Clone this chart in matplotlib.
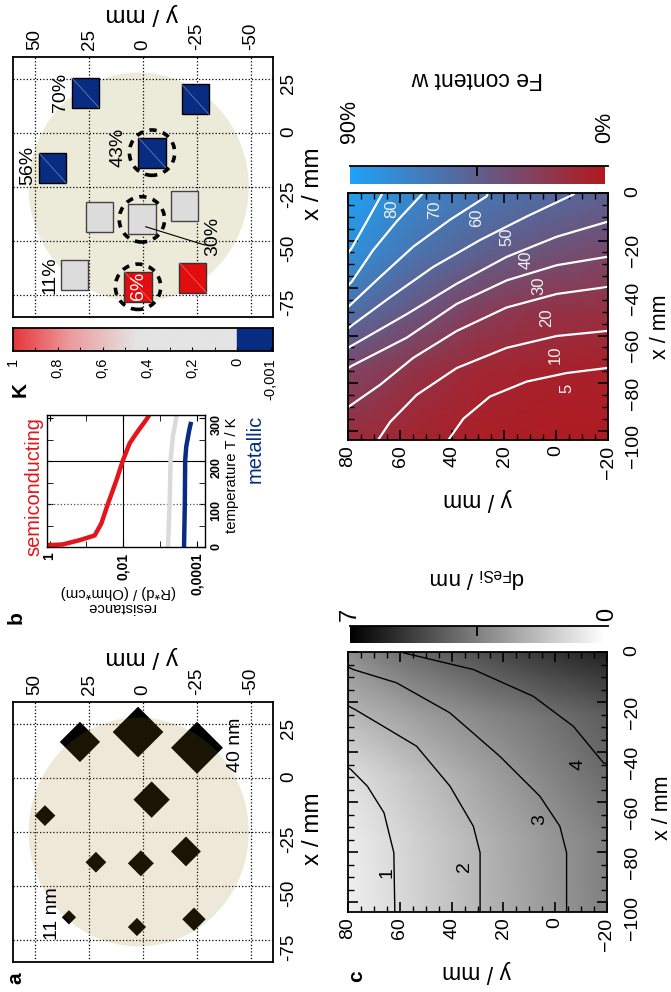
import numpy as np
import matplotlib
matplotlib.use("Agg")
import matplotlib.pyplot as plt
from matplotlib.patches import Ellipse, Rectangle
from matplotlib.colors import LinearSegmentedColormap

plt.rcParams['font.family'] = ['Liberation Sans', 'DejaVu Sans']
plt.rcParams['mathtext.fontset'] = 'custom'
plt.rcParams['mathtext.rm'] = 'Liberation Sans'
plt.rcParams['axes.linewidth'] = 1.3

W, H = 671, 992

# wafer outline (x, y in mm)
wafer_x, wafer_y = -25.0, 2.0
wafer_rx, wafer_ry = 53.0, 51.0
wafer_ticks_x = [25, 0, -25, -50, -75]
wafer_ticks_y = [50, 25, 0, -25, -50]

# panel a: FeSi thickness at sample positions
dia_x = [16.7, 21.3, 14.0, -10.0, -17.4, -39.0, -39.5, -34.0, -64.5, -69.0, -65.4]
dia_y = [29.2, 2.3, -25.0, -4.0, 45.4, 21.8, 1.0, -19.9, 34.3, 2.8, -23.6]
dia_nm = [31, 39, 40, 28, 16, 16, 20, 23, 11, 14, 18]

# panel K: samples (position, behaviour)
sq_x = [18.7, 15.6, -9.1, -16.3, -39.0, -40.0, -33.9, -65.9, -71.2, -67.0]
sq_y = [26.7, -24.2, -4.2, 41.8, 20.2, 0.5, -19.4, 31.6, 2.3, -23.1]
sq_type = ['metal', 'metal', 'metal', 'metal', 'mid', 'mid', 'mid', 'mid', 'semi', 'semi']
circled = [2, 5, 8]
fe_lab_text = ['70%', '56%', '43%', '30%', '11%', '6%']
fe_lab_x = [19.0, -14.8, -6.5, -48.1, -65.7, -70.8]
fe_lab_y = [38.4, 53.2, 11.6, -32.4, 43.1, 1.9]
k_ticks = [1, 0.8, 0.6, 0.4, 0.2, 0, -0.15]
k_ticklabels = ['1', '0,8', '0,6', '0,4', '0,2', '0', '-0,001']

# panel b: resistance vs temperature
T_semi = [0, 4, 6, 16, 27, 55, 101, 156, 203, 242, 265, 297, 306]
R_semi = [1.3, 1.2, 0.437, 0.151, 0.0589, 0.0389, 0.0257, 0.0151, 0.0100, 0.0066, 0.00437, 0.00234, 0.0020]
T_mid = [0, 101, 203, 258, 306]
R_mid = [6.0e-4, 5.4e-4, 5.1e-4, 4.4e-4, 3.5e-4]
T_metal = [2, 101, 203, 234, 273, 287]
R_metal = [2.19e-4, 2.09e-4, 2.04e-4, 1.91e-4, 1.58e-4, 1.45e-4]

# panels c and Fe: model maps, grid
grid_x = [0, -25, -50, -75, -104]
grid_y = [80, 55, 30, 5, -20]
d_grid = [[3.10, 4.10, 4.80, 5.50, 6.10],
          [1.92, 2.60, 3.25, 3.85, 4.45],
          [0.85, 1.65, 2.45, 3.25, 4.05],
          [0.50, 1.25, 2.00, 2.75, 3.50],
          [0.42, 1.18, 1.95, 2.70, 3.45]]
fe_grid = [[88, 72, 61, 54, 47],
           [79, 60, 47, 37, 31],
           [56, 40, 24, 17, 14.5],
           [28.6, 17.2, 9.0, 6.2, 4.7],
           [13, 7.4, 3.9, 2.2, 1.2]]

# thickness contour lines (y, x)
c_levels = ['1', '2', '3', '4']
c_line_y = [[61.9, 62.3, 66.1, 72.5, 78.9, 81],
            [29.0, 29.0, 31.6, 40.6, 53.5, 66.4, 77.3, 81],
            [-4.4, -4.4, -1.8, 5.9, 21.4, 40.7, 61.3, 78.0, 81],
            [-21, -18.6, -7.0, 8.5, 31.6, 58.7, 60]]
c_line_x = [[-105, -80.3, -64.3, -53.7, -47, -45.5],
            [-105, -80.3, -69.7, -53.7, -37.7, -29.7, -23, -21],
            [-105, -80.3, -69.7, -57.7, -41.7, -24.3, -12.3, -7, -5.5],
            [-45.2, -44.3, -29.7, -17.7, -7, -0.3, 0.5]]
c_lab_y = [65.1, 35.2, 5.9, -8.9]
c_lab_x = [-88.3, -85.7, -67.0, -45.0]

# Fe content contour lines (y, x)
fe_levels = ['5', '10', '20', '30', '40', '50', '60', '70', '80']
fe_line_y = [[-21, -19.5, -4.1, 11.3, 25.4, 35.6, 42, 42.5],
             [-21, -19.5, -0.3, 19, 38.2, 53.6, 63.8, 69, 69.5],
             [-21, -19.5, -0.3, 19, 38.2, 54.9, 67.7, 78.6, 81],
             [-21, -19.5, -0.3, 19, 38.2, 57.4, 78.6, 81],
             [-21, -19.5, -0.3, 19, 38.2, 57.4, 78.6, 81],
             [-7.5, -6.7, 11.3, 29.2, 47.2, 63.8, 78.6, 81],
             [26, 26.7, 40.8, 54.9, 67.7, 78.6, 81],
             [51, 51.6, 61.3, 70.3, 78.6, 81],
             [66.7, 67, 72.8, 78.6, 81]]
fe_line_x = [[-73.6, -73.7, -75.8, -79.4, -85.7, -95, -104.9, -106],
             [-58, -58.1, -60.2, -65.2, -73.7, -85, -96.4, -104.9, -106],
             [-39.5, -39.6, -42.5, -48.2, -58.1, -69.4, -80.8, -89.1, -91],
             [-26.8, -26.9, -30.4, -36.8, -46.7, -60.9, -72.8, -74.5],
             [-12, -12.2, -18.4, -26.9, -38.2, -51, -64.3, -66],
             [0.5, -0.6, -9.9, -19.8, -31.1, -43.9, -55.8, -58],
             [0.5, -1.4, -11.3, -22.6, -35.4, -46.6, -49],
             [0.5, -0.6, -12, -24, -37.4, -40],
             [0.5, -0.6, -12, -23.2, -27]]
fe_lab_cy = [-4.1, 0.4, 3.6, 6.8, 11.3, 19.0, 30.5, 46.5, 63.2]
fe_lab_cx = [-82.2, -68.0, -52.4, -38.9, -28.3, -18.4, -10.6, -7.0, -6.7]

navy = '#082C82'
red = '#E3151A'
sq_colors = {'metal': navy, 'mid': '#DCDCDC', 'semi': '#E20D0F'}
sq_edges = {'metal': 'k', 'mid': '#444444', 'semi': '#333333'}
sq_diag = {'metal': '#6F8AC0', 'mid': None, 'semi': '#F07070'}

fig = plt.figure(figsize=(W / 100, H / 100), dpi=100)


def box(l, t, r, b):
    return [l / W, 1 - b / H, (r - l) / W, (b - t) / H]


def put(x, y, s, rot=90, **kw):
    kw.setdefault('ha', 'center')
    kw.setdefault('va', 'center')
    fig.text(x / W, 1 - y / H, s, rotation=rot, **kw)


def wafer_axes(rect):
    ax = fig.add_axes(box(*rect))
    ax.set_xlim(60.2, -60.2)
    ax.set_ylim(-85.2, 35.2)
    ax.set_xticks(wafer_ticks_y)
    ax.set_xticklabels([str(v) for v in wafer_ticks_y])
    ax.set_yticks(wafer_ticks_x)
    ax.set_yticklabels([str(v) for v in wafer_ticks_x])
    ax.xaxis.tick_top()
    ax.yaxis.tick_right()
    ax.tick_params(length=0, labelsize=13.5, labelrotation=90, pad=5)
    ax.grid(True, ls=':', color='k', lw=0.9)
    ax.set_axisbelow(True)
    return ax


# ---- K map (top left) ----
axk = wafer_axes((13, 57, 273, 317))
axk.add_patch(Ellipse((wafer_y, wafer_x), 2 * wafer_ry, 2 * wafer_rx,
                      color='#ECEBDA', lw=0, zorder=0.2))
sq_w, sq_h = 12.6, 13.9
for i in range(len(sq_x)):
    t = sq_type[i]
    axk.add_patch(Rectangle((sq_y[i] - sq_w / 2, sq_x[i] - sq_h / 2), sq_w, sq_h,
                            fc=sq_colors[t], ec=sq_edges[t], lw=1.0, zorder=2))
    if sq_diag[t]:
        axk.plot([sq_y[i] + sq_w / 2, sq_y[i] - sq_w / 2],
                 [sq_x[i] + sq_h / 2, sq_x[i] - sq_h / 2],
                 color=sq_diag[t], lw=0.5, zorder=2.1)
for i in circled:
    axk.add_patch(Ellipse((sq_y[i], sq_x[i]), 21, 21, fill=False, ec='k',
                          lw=2.6, ls=(0, (2, 1.8)), zorder=3))
for s, x, y in zip(fe_lab_text, fe_lab_x, fe_lab_y):
    axk.text(y, x, s, rotation=90, ha='center', va='center', fontsize=14,
             color='white' if s == '6%' else 'black', zorder=4)
axk.plot([-1.25, -28.7], [-43.4, -51.9], color='k', lw=0.8, zorder=3)

put(313, 184, 'x / mm', fontsize=17.5)
put(142, 14, 'y / mm', rot=180, fontsize=17.5)

# K colour bar
k_cmap = LinearSegmentedColormap.from_list(
    'kmap', [(0, '#E4E4E4'), (0.45, '#E4E4E4'), (0.75, '#EC9A9C'), (1, '#E6353A')])
axkb = fig.add_axes(box(13, 328, 273, 351))
axkb.imshow(np.linspace(0, 1, 256)[np.newaxis, :], extent=(0, 1, 0, 1), cmap=k_cmap,
            vmin=0, vmax=1, aspect='auto', origin='lower')
axkb.add_patch(Rectangle((0, 0), -0.16, 1, color=navy))
axkb.set_xlim(1, -0.16)
axkb.set_ylim(0, 1)
axkb.set_yticks([])
axkb.set_xticks(k_ticks)
axkb.set_xticklabels(k_ticklabels)
axkb.set_xticks([0.9, 0.7, 0.5, 0.3, 0.1], minor=True)
axkb.tick_params(axis='x', which='both', direction='in', length=3, labelrotation=90,
                 labelsize=10.5, pad=5)
put(20, 390, 'K', fontsize=15, fontweight='bold')

# ---- panel b ----
axb = fig.add_axes(box(47, 415, 205, 547))
axb.set_xscale('log')
axb.axvline(1e-2, color='k', lw=0.8)
axb.axhline(200, color='k', lw=0.8)
axb.axhline(100, color='#555555', lw=0.9, ls=':')
axb.plot(R_mid, T_mid, color='#DADADA', lw=3.2)
axb.plot(R_metal, T_metal, color=navy, lw=3.2)
axb.plot(R_semi, T_semi, color=red, lw=3.2)
axb.set_xlim(1.17, 5.9e-5)
axb.set_ylim(0, 308)
axb.set_xticks([1, 1e-2, 1e-4])
axb.set_xticklabels(['1', '0,01', '0,0001'], fontweight='bold')
axb.set_xticks([1e-1, 1e-3], minor=True)
axb.xaxis.set_minor_formatter(plt.NullFormatter())
axb.set_yticks([0, 100, 200, 300])
axb.set_yticklabels(['0', '100', '200', '300'], fontweight='bold')
axb.set_yticks([50, 150, 250], minor=True)
axb.yaxis.tick_right()
axb.tick_params(axis='x', which='both', top=True, bottom=True, direction='in',
                labelrotation=90, labelsize=10, pad=4, length=4)
axb.tick_params(axis='y', which='both', left=True, right=True, direction='in',
                labelrotation=90, labelsize=9, pad=4, length=4)
for sp in axb.spines.values():
    sp.set_linewidth(1.0)
put(34, 487, 'semiconducting', fontsize=14.4, color=red)
put(255, 449, 'metallic', fontsize=14.4, color=navy)
put(232, 475, 'temperature T / K', fontsize=10.7)
put(121, 607, 'resistance', rot=180, fontsize=10.7)
put(118, 592, '(R*d) / (Ohm*cm)', rot=180, fontsize=10.7)

# ---- panel a ----
axa = wafer_axes((13, 702, 273, 962))
axa.scatter(dia_y, dia_x, s=(0.662 * np.array(dia_nm)) ** 2, marker='D', c='k',
            lw=0, zorder=2)
axa.add_patch(Ellipse((wafer_y, wafer_x), 2 * wafer_ry, 2 * wafer_rx,
                      color=(0.6, 0.486, 0.114), alpha=0.17, lw=0, zorder=3))
axa.text(-43, 15.4, '40 nm', rotation=90, ha='center', va='center', fontsize=14, zorder=4)
axa.text(42.1, -62.6, '11 nm', rotation=90, ha='center', va='center', fontsize=14, zorder=4)
put(313, 829, 'x / mm', fontsize=17.5)
put(142, 657, 'y / mm', rot=180, fontsize=17.5)


# ---- maps c and Fe ----
def map_axes(rect):
    ax = fig.add_axes(box(*rect))
    ax.set_xlim(80, -20)
    ax.set_ylim(-104, 0)
    ax.set_xticks([80, 60, 40, 20, 0, -20])
    ax.set_xticks(np.arange(-20, 81, 5), minor=True)
    ax.set_yticks([0, -20, -40, -60, -80, -100])
    ax.set_yticks(np.arange(-100, 1, 5), minor=True)
    ax.tick_params(which='both', direction='in', top=True, bottom=True, left=True,
                   right=True, labelleft=False, labelright=True, labelrotation=90,
                   labelsize=14)
    ax.tick_params(axis='x', pad=4)
    ax.tick_params(axis='y', pad=12)
    ax.tick_params(which='major', length=7, width=1.2)
    ax.tick_params(which='minor', length=4, width=1.0)
    return ax


axc = map_axes((348, 652, 607, 912))
mesh_c = axc.pcolormesh(grid_y, grid_x, d_grid, shading='gouraud', cmap='gray_r',
                        vmin=0, vmax=7)
for ys, xs in zip(c_line_y, c_line_x):
    axc.plot(ys, xs, color='k', lw=1.0)
for s, y, x in zip(c_levels, c_lab_y, c_lab_x):
    axc.text(y, x, s, rotation=90, ha='center', va='center', fontsize=14)
put(662, 808, 'x / mm', fontsize=15.5)
put(477, 972, 'y / mm', rot=180, fontsize=16.5)

fe_cmap = LinearSegmentedColormap.from_list(
    'fe', [(0, '#B2191E'), (0.5, '#5E5F8E'), (1, '#1EA2F6')])
axf = map_axes((348, 193, 608, 440))
mesh_f = axf.pcolormesh(grid_y, grid_x, fe_grid, shading='gouraud', cmap=fe_cmap,
                        vmin=0, vmax=90)
for ys, xs in zip(fe_line_y, fe_line_x):
    axf.plot(ys, xs, color='white', lw=1.6)
for s, y, x in zip(fe_levels, fe_lab_cy, fe_lab_cx):
    axf.text(y, x, s, rotation=90, ha='center', va='center', fontsize=12,
             color='#F2F2F2')
put(661, 327, 'x / mm', fontsize=15.5)
put(478, 500, 'y / mm', rot=180, fontsize=16.5)


def top_bar(mesh, rect, mid):
    cax = fig.add_axes(box(*rect))
    cb = fig.colorbar(mesh, cax=cax, orientation='horizontal')
    cb.outline.set_visible(False)
    cax.invert_xaxis()
    cb.set_ticks([mid])
    cax.xaxis.set_ticks_position('top')
    cax.tick_params(direction='in', length=7, width=1.3, labeltop=False,
                    labelbottom=False)
    cax.plot([0, 1.01], [1, 1], transform=cax.transAxes, color='k', lw=1.3,
             clip_on=False)
    return cax


top_bar(mesh_f, (350, 166, 605, 184), 45)
put(349, 143, '90%', fontsize=15.5, va='bottom')
put(605, 143, '0%', fontsize=15.5, va='bottom')
put(477, 79, 'Fe content w', rot=180, fontsize=16.5)

top_bar(mesh_c, (350, 626, 605, 643), 3.5)
put(350, 621, '7', fontsize=17, va='bottom')
put(607, 621, '0', fontsize=17, va='bottom')
put(477, 578, r'd$_{\mathregular{FeSi}}$ / nm', rot=180, fontsize=16)

# panel letters
put(16, 978, 'a', fontsize=15, fontweight='bold')
put(16, 618, 'b', fontsize=15, fontweight='bold')
put(357, 976, 'c', fontsize=15, fontweight='bold')

fig.savefig('out.png', dpi=100)
